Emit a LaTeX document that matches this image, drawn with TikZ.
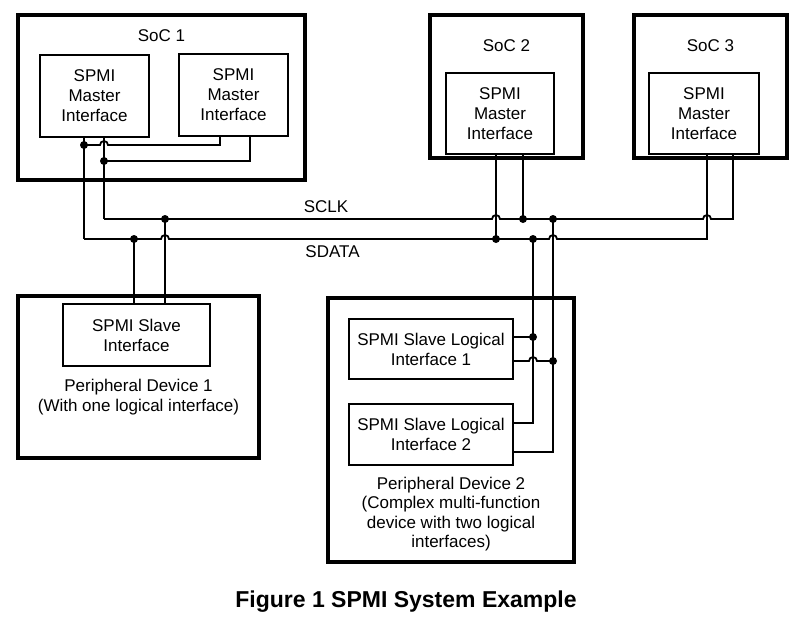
\documentclass[tikz,border=0pt]{standalone}
\usepackage{fontspec}
\setmainfont{Liberation Sans}
\usetikzlibrary{positioning}
\tikzset{font=\fontsize{17}{20}\selectfont}
\tikzset{
  devbox/.style={draw,line width=3.4pt,inner sep=0pt},
  ifbox/.style={draw,line width=1.7pt,align=center,inner sep=0pt},
  wire/.style={line width=1.8pt},
  junc/.style={circle,fill,inner sep=0pt,minimum size=8pt},
}

\begin{document}
\begin{tikzpicture}[x=1pt,y=-1pt]
  \fill[white] (0,0) rectangle (811,625);
  \useasboundingbox (0,0) rectangle (811,625);

  % devices
  \node[devbox,minimum width=287,minimum height=165] (soc1) at (161.5,97.5) {};
  \node[devbox,minimum width=153,minimum height=143] (soc2) at (506.5,86.5) {};
  \node[devbox,minimum width=153,minimum height=143] (soc3) at (710.5,86.5) {};
  \node[devbox,minimum width=241,minimum height=162] (pd1) at (138.5,377) {};
  \node[devbox,minimum width=246,minimum height=264] (pd2) at (451,430) {};

  \node at (161.5,36) {SoC 1};
  \node at (506.5,46) {SoC 2};
  \node at (710.5,46) {SoC 3};

  % interfaces
  \node[ifbox,minimum width=109,minimum height=82] (m11) at (94.5,96) {SPMI\\Master\\Interface};
  \node[ifbox,minimum width=109,minimum height=82] (m12) at (233.5,95) {SPMI\\Master\\Interface};
  \node[ifbox,minimum width=108,minimum height=81] (m2) at (500,113.5) {SPMI\\Master\\Interface};
  \node[ifbox,minimum width=110,minimum height=81] (m3) at (704,113.5) {SPMI\\Master\\Interface};
  \node[ifbox,minimum width=147,minimum height=62] (s1) at (136.5,335) {SPMI Slave\\Interface};
  \node[ifbox,minimum width=164,minimum height=60] (l1) at (431,349) {SPMI Slave Logical\\Interface 1};
  \node[ifbox,minimum width=164,minimum height=61] (l2) at (431,434.5) {SPMI Slave Logical\\Interface 2};

  \node[align=center] at (138.5,397.5) {Peripheral Device 1\\(With one logical interface)};
  \node[align=center,font=\fontsize{17}{19.5}\selectfont] at (451,514)
    {Peripheral Device 2\\(Complex multi-function\\device with two logical\\interfaces)};

  % bus points
  \coordinate (sc0) at (104,219);
  \coordinate (sc1) at (733,219);
  \coordinate (sd0) at (84,239);
  \coordinate (sd1) at (707,239);
  \coordinate (scp1) at (165,219);
  \coordinate (sdp1) at (134,239);
  \coordinate (scm2) at (523,219);
  \coordinate (sdm2) at (496,239);
  \coordinate (scp2) at (553,219);
  \coordinate (sdp2) at (533,239);
  \coordinate (ja) at (84,145);
  \coordinate (jb) at (104,161);
  \coordinate (ma) at (220,0);
  \coordinate (mb) at (250,0);
  \coordinate (ka) at (533,337);
  \coordinate (kb) at (553,361);
  \coordinate (kc) at (533,423);
  \coordinate (kd) at (553,452);

  % SoC 1 wiring
  \draw[wire] (m11.south -| sd0) -- (sd0);
  \draw[wire] (m11.south -| sc0) -- (sc0);
  \draw[wire] (ja) -- ([xshift=-4pt]ja -| sc0) arc[start angle=180,end angle=0,radius=4pt]
    -- (ja -| ma) -- (m12.south -| ma);
  \draw[wire] (jb) -- (jb -| mb) -- (m12.south -| mb);

  % SCLK and SDATA
  \draw[wire] (sc0) -- ([xshift=-4pt]sc0 -| sdm2) arc[start angle=180,end angle=0,radius=4pt]
    -- ([xshift=-4pt]sc0 -| sd1) arc[start angle=180,end angle=0,radius=4pt]
    -- (sc1) -- (m3.south -| sc1);
  \draw[wire] (sd0) -- ([xshift=-4pt]sd0 -| scp1) arc[start angle=180,end angle=0,radius=4pt]
    -- ([xshift=-4pt]sd0 -| scp2) arc[start angle=180,end angle=0,radius=4pt]
    -- (sd1) -- (m3.south -| sd1);
  \node[above=3pt] at (326,219) {SCLK};
  \node[below=3pt] at (332.5,239) {SDATA};

  % taps
  \draw[wire] (m2.south -| sdm2) -- (sdm2);
  \draw[wire] (m2.south -| scm2) -- (scm2);
  \draw[wire] (sdp1) -- (s1.north -| sdp1);
  \draw[wire] (scp1) -- (s1.north -| scp1);
  \draw[wire] (sdp2) -- (kc) -- (l2.east |- kc);
  \draw[wire] (scp2) -- (kd) -- (l2.east |- kd);
  \draw[wire] (l1.east |- ka) -- (ka);
  \draw[wire] (l1.east |- kb) -- ([xshift=-4pt]kb -| ka) arc[start angle=180,end angle=0,radius=4pt] -- (kb);

  \foreach \p in {ja,jb,scp1,sdp1,scm2,sdm2,scp2,sdp2,ka,kb}
    \node[junc] at (\p) {};

  \node[font=\bfseries\fontsize{23}{27}\selectfont] at (406,602) {Figure 1 SPMI System Example};
\end{tikzpicture}
\end{document}
